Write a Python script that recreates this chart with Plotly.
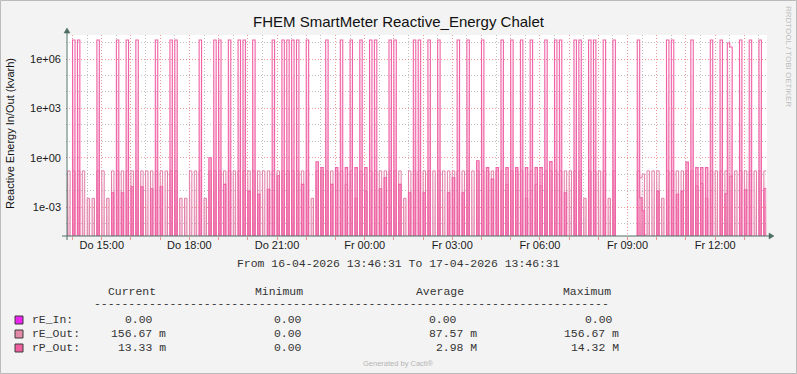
import plotly.graph_objects as go
import pandas as pd

# ---------------- data (5-minute steps starting 2026-04-16 13:45) ----------------
start_time = "2026-04-16 13:45:00"
n_steps = 289

x_tick_times = ["2026-04-16 15:00", "2026-04-16 18:00", "2026-04-16 21:00", "2026-04-17 00:00",
                "2026-04-17 03:00", "2026-04-17 06:00", "2026-04-17 09:00", "2026-04-17 12:00"]
x_tick_labels = ["Do 15:00", "Do 18:00", "Do 21:00", "Fr 00:00",
                 "Fr 03:00", "Fr 06:00", "Fr 09:00", "Fr 12:00"]
y_tick_vals = [1e-3, 1, 1e3, 1e6]
y_tick_labels = ["1e-03", "1e+00", "1e+03", "1e+06"]

rE_In = [0.0] * n_steps  # all statistics read 0.00

rE_Out = [
    0, 0.157, 0, 0.157, 0, 0.157, 0, 0.157, 0, 0.0034,            # 0
    0, 0.0034, 0, 0.157, 0, 0.157, 0, 0.0034, 0, 0.157,           # 10
    0, 0.157, 0, 0.157, 0, 0.157, 0, 0.157, 0, 0.157,             # 20
    0, 0.157, 0, 0.157, 0, 0.157, 0, 0.157, 0, 0.157,             # 30
    0, 0.157, 0, 0.157, 0, 0.157, 0, 0.0034, 0, 0.0034,           # 40
    0, 0.157, 0, 0.157, 0, 0.157, 0, 0.0034, 0, 0.157,            # 50
    0, 0.157, 0, 0.157, 0, 0.157, 0, 0.157, 0, 0.157,             # 60
    0, 0.157, 0, 0.157, 0, 0.157, 0, 0.157, 0, 0.157,             # 70
    0, 0.157, 0, 0.157, 0, 0.157, 0, 0.157, 0, 0.157,             # 80
    0, 0.157, 0, 0.157, 0, 0.157, 0, 0.157, 0, 0.157,             # 90
    0, 0.0034, 0, 0.157, 0, 0.157, 0, 0.157, 0, 0.157,            # 100
    0, 0.157, 0, 0.157, 0, 0.024, 0, 0.157, 0, 0.0034,            # 110
    0, 0.157, 0, 0.0093, 0, 0.157, 0, 0.157, 0, 0.157,            # 120
    0, 0.157, 0, 0.157, 0, 0.157, 0, 0.157, 0, 0.0034,            # 130
    0, 0.157, 0, 0.157, 0, 0.157, 0, 0.157, 0, 0.157,             # 140
    0, 0.157, 0, 0.157, 0, 0.157, 0, 0.157, 0, 0.157,             # 150
    0, 0.157, 0, 0.157, 0, 0.157, 0, 0.157, 0, 0.157,             # 160
    0, 0.157, 0, 0.157, 0, 0.157, 0, 0.157, 0, 0.157,             # 170
    0, 0.024, 0, 0.157, 0, 0.157, 0, 0.157, 0, 0.0034,            # 180
    0, 0.157, 0, 0.024, 0, 0.019, 0, 0.157, 0, 0.157,             # 190
    0, 0.157, 0, 0.157, 0, 0.157, 0, 0.157, 0, 0.157,             # 200
    0, 0.157, 0, 0.0034, 0, 0.157, 0, 0.157, 0, 0.157,            # 210
    0, 0.157, 0, 0.0034, 0, 0.157, 0, None, None, None,           # 220
    None, None, None, None, 0, 0.157, 0.06, 0.1, 0.00002, 0.157,  # 230
    0, 0.157, 0, 0.157, 0, 0.0034, 0, 0.157, 0, 0.157,            # 240
    0, 0.157, 0, 0.157, 0, 0.157, 0, 0.157, 0, 0.019,             # 250
    0, 0.027, 0, 0.0034, 0, 0.157, 0, 0.157, 0, 0.157,            # 260
    0, 0.157, 0, 0.076, 0, 0.157, 0, 0.157, 0, 0.157,             # 270
    0, 0.157, 0, 0.157, 0, 0.157, 0, 0.15667, 0.15667,            # 280
]

rP_Out = [
    0, 0, 0, 14320000, 0, 14320000, 0, 0, 0, 0,                                   # 0
    0, 0, 0, 14320000, 0, 0, 0, 0, 0, 0.0074,                                     # 10
    0, 14320000, 0, 0.0074, 0, 14320000, 0, 0.017, 0, 14320000,                   # 20
    0, 0.017, 0, 0, 0, 0.013, 0, 14320000, 0, 0.017,                              # 30
    0, 0, 0, 14320000, 0, 14320000, 0, 0, 0, 0,                                   # 40
    0, 0, 0, 0, 0, 14320000, 0, 0, 0, 1.0,                                        # 50
    0, 14320000, 0, 14320000, 0, 0.024, 0, 14320000, 0, 0,                        # 60
    0, 14320000, 0, 14320000, 0, 0.0093, 0, 14320000, 0, 0.006,                   # 70
    0, 0, 0, 0.012, 0, 14320000, 0, 0.08, 0, 14320000,                            # 80
    0, 14320000, 0, 14320000, 0, 14320000, 0, 0.024, 0, 14320000,                 # 90
    0, 0, 0, 0.57, 0, 0.25, 0, 14320000, 0, 0.024,                                # 100
    0, 0.25, 0, 14320000, 0, 0.25, 0, 14320000, 0, 0.25,                          # 110
    0, 14320000, 0, 0.25, 0, 14320000, 0, 14320000, 0, 0.013,                     # 120
    0, 0.06, 0, 14320000, 0, 14320000, 0, 0.024, 0, 0,                            # 130
    0, 0.0074, 0, 14320000, 0, 14320000, 0, 0.0074, 0, 14320000,                  # 140
    0, 0, 0, 14320000, 0, 0, 0, 0.0074, 0, 0.06,                                  # 150
    0, 14320000, 0, 0.0074, 0, 14320000, 0, 0, 0, 0.65,                           # 160
    0, 14320000, 0, 0.25, 0, 0.05, 0, 0.25, 0, 14320000,                          # 170
    0, 0.25, 0, 14320000, 0, 0.25, 0, 14320000, 0, 0.25,                          # 180
    0, 14320000, 0, 0.25, 0, 0.25, 0, 14320000, 0, 0.58,                          # 190
    0, 14320000, 0, 14320000, 0, 0.0074, 0, 0, 0, 14320000,                       # 200
    0, 14320000, 0, 0, 0, 14320000, 0, 14320000, 0, 0,                            # 210
    0, 14320000, 0, 0, 0, 14320000, 0, None, None, None,                          # 220
    None, None, None, None, 0, 14320000, 0.0036, 0.0006, 0, 0,                    # 230
    0, 0, 0, 0.0093, 0, 0, 0, 14320000, 0, 14320000,                              # 240
    0, 0.006, 0, 0.0093, 0, 0.54, 0, 14320000, 0, 0.25,                           # 250
    0, 0.25, 0, 0.25, 0, 14320000, 0, 0, 0, 14320000,                             # 260
    0, 0.0064, 9400000, 5400000, 0, 0, 0, 14320000, 0, 0.011,                     # 270
    0, 14320000, 0, 0, 0, 14320000, 0, 0.01333, 0.01333,                          # 280
]

legend_names = ["rE_In:", "rE_Out:", "rP_Out:"]
legend_colors = ["#EE22EE", "#E38AA9", "#F0609F"]
stat_current = ["0.00", "156.67 m", "13.33 m"]
stat_minimum = ["0.00", "0.00", "0.00"]
stat_average = ["0.00", "87.57 m", "2.98 M"]
stat_maximum = ["0.00", "156.67 m", "14.32 M"]

# ---------------- figure ----------------
W, H = 797, 374
PL, PR, PT, PB = 66, 767, 35, 236
Y_LOG_RANGE = [-4.76, 7.46]


def fx(x):
    return (x - PL) / (PR - PL)


def fy(y):
    return (PB - y) / (PB - PT)


times = list(pd.date_range(start_time, periods=n_steps, freq="5min"))


def segments(vals):
    """Split a series at missing values; zeros are pushed below the log axis."""
    segs, cur_x, cur_y = [], [], []
    for t, v in zip(times, vals):
        if v is None:
            if cur_x:
                segs.append((cur_x, cur_y))
            cur_x, cur_y = [], []
        else:
            cur_x.append(t)
            cur_y.append(v if v > 0 else 1e-9)
    if cur_x:
        segs.append((cur_x, cur_y))
    return segs


fig = go.Figure()


def add_series(vals, line_color, fill_rgb, levels, alpha, lw):
    # gradient-like area (denser towards the bottom), like Cacti's gradient AREA
    for sx, sy in segments(vals):
        for lev in levels:
            cap = 10 ** lev
            fig.add_trace(go.Scatter(x=sx, y=[min(v, cap) for v in sy], mode="lines",
                                     line=dict(width=0, shape="hv"), fill="tozeroy",
                                     fillcolor=f"rgba({fill_rgb},{alpha})", hoverinfo="skip"))
        fig.add_trace(go.Scatter(x=sx, y=sy, mode="lines",
                                 line=dict(color=line_color, width=lw, shape="hv"),
                                 hoverinfo="skip"))


for sx, sy in segments(rE_In):
    fig.add_trace(go.Scatter(x=sx, y=sy, mode="lines",
                             line=dict(color=legend_colors[0], width=1, shape="hv"),
                             hoverinfo="skip"))
add_series(rE_Out, "#E27FA8", "232,120,165",
           [-4.5, -4, -3.5, -3, -2.5, -2, -1.5, -1.1], 0.065, 1)
add_series(rP_Out, "#F062A6", "240,96,160",
           [-4, -3, -2, -1, 0, 1, 2, 3, 4, 5, 6], 0.08, 1.1)

hour_ticks = pd.date_range("2026-04-16 14:00", "2026-04-17 13:00", freq="1h")
label_map = {pd.Timestamp(t): l for t, l in zip(x_tick_times, x_tick_labels)}
hour_text = [label_map.get(t, "") for t in hour_ticks]
half_hours = pd.date_range("2026-04-16 14:30", "2026-04-17 13:30", freq="1h")

MAJ = "rgba(225,70,70,0.55)"
MIN = "rgba(140,140,140,0.55)"
DASH = "1px,2px"

fig.update_layout(
    width=W, height=H,
    margin=dict(l=PL, r=W - PR, t=PT, b=H - PB),
    paper_bgcolor="#F3F3F3", plot_bgcolor="#FFFFFF",
    showlegend=False,
    font=dict(family="Liberation Sans, Arial, sans-serif", size=11, color="#000000"),
    xaxis=dict(type="date", range=["2026-04-16 13:46:31", "2026-04-17 13:46:31"],
               tickmode="array", tickvals=hour_ticks, ticktext=hour_text,
               showgrid=True, gridcolor=MAJ, griddash=DASH, gridwidth=1,
               ticks="outside", ticklen=3, tickcolor=MAJ, ticklabelstandoff=-4,
               minor=dict(tickmode="array", tickvals=half_hours, showgrid=True,
                          gridcolor=MIN, griddash=DASH, ticks=""),
               showline=False, zeroline=False,
               tickfont=dict(size=11, color="#1a1a1a")),
    yaxis=dict(type="log", range=Y_LOG_RANGE,
               tickmode="array", tickvals=y_tick_vals, ticktext=y_tick_labels,
               showgrid=True, gridcolor=MAJ, griddash=DASH, gridwidth=1,
               ticks="", ticklabelstandoff=4,
               minor=dict(tickmode="array",
                          tickvals=[1e-4, 1e-2, 1e-1, 10, 100, 1e4, 1e5, 1e7],
                          showgrid=True, gridcolor=MIN, griddash=DASH, ticks=""),
               showline=False, zeroline=False,
               tickfont=dict(size=11, color="#1a1a1a")),
)

AX = "#4E6E62"
shapes = [
    # outer frame
    dict(type="rect", xref="paper", yref="paper", x0=fx(0.5), x1=fx(796.5), y0=fy(0.5), y1=fy(373.5),
         line=dict(color="#BBBBBB", width=1), fillcolor="rgba(0,0,0,0)", layer="below"),
    # axes
    dict(type="line", xref="paper", yref="paper", x0=fx(62), x1=fx(770), y0=fy(236), y1=fy(236),
         line=dict(color=AX, width=1)),
    dict(type="line", xref="paper", yref="paper", x0=fx(67), x1=fx(67), y0=fy(240), y1=fy(31),
         line=dict(color=AX, width=1)),
    dict(type="path", xref="paper", yref="paper",
         path=f"M {fx(64)} {fy(33)} L {fx(70)} {fy(33)} L {fx(67)} {fy(28)} Z",
         fillcolor=AX, line=dict(color=AX, width=0.5)),
    dict(type="path", xref="paper", yref="paper",
         path=f"M {fx(769)} {fy(233)} L {fx(769)} {fy(239)} L {fx(774)} {fy(236)} Z",
         fillcolor=AX, line=dict(color=AX, width=0.5)),
]
for i, c in enumerate(legend_colors):
    yc = 320 + 14 * i
    shapes.append(dict(type="rect", xref="paper", yref="paper",
                       x0=fx(15), x1=fx(23), y0=fy(yc - 4), y1=fy(yc + 4),
                       fillcolor=c, line=dict(color="#3A3A3A", width=1)))
fig.update_layout(shapes=shapes)

MONO = "Liberation Mono, DejaVu Sans Mono, monospace"
MS = 11.45
ann = []


def text(x, y, s, size=11, family="Liberation Sans, Arial, sans-serif", color="#000",
         xanchor="left", angle=0):
    ann.append(dict(x=fx(x), y=fy(y), xref="paper", yref="paper", text=s, showarrow=False,
                    xanchor=xanchor, yanchor="middle", textangle=angle,
                    font=dict(size=size, family=family, color=color), borderpad=0))


text(399, 22, "FHEM SmartMeter Reactive_Energy Chalet", size=15, xanchor="center", color="#111")
text(10, 134, "Reactive Energy In/Out (kvarh)", size=11, xanchor="center", angle=-90, color="#111")
text(398.5, 263, "From 16-04-2026 13:46:31 To 17-04-2026 13:46:31", size=MS, family=MONO,
     xanchor="center", color="#333")
text(107, 291, "Current", size=MS, family=MONO, color="#333")
text(254, 291, "Minimum", size=MS, family=MONO, color="#333")
text(415, 291, "Average", size=MS, family=MONO, color="#333")
text(562, 291, "Maximum", size=MS, family=MONO, color="#333")
text(93, 303, "-" * 75, size=MS, family=MONO, color="#333")
cur_x = [124, 110, 117]
avg_x = [428, 428, 435]
max_x = [584, 563, 570]
for i in range(3):
    yrow = 319 + 14 * i
    text(31, yrow, legend_names[i], size=MS, family=MONO, color="#333")
    text(cur_x[i], yrow, stat_current[i], size=MS, family=MONO, color="#333")
    text(273, yrow, stat_minimum[i], size=MS, family=MONO, color="#333")
    text(avg_x[i], yrow, stat_average[i], size=MS, family=MONO, color="#333")
    text(max_x[i], yrow, stat_maximum[i], size=MS, family=MONO, color="#333")
text(788, 56, "RRDTOOL / TOBI OETIKER", size=8, xanchor="center", angle=90, color="#BDBDBD")
text(398, 363, "Generated by Cacti®", size=7.5, xanchor="center", color="#B5B5B5")
fig.update_layout(annotations=ann)

fig.write_html("out.html", config={"displayModeBar": False},
               post_script="document.body.style.margin='0';")
